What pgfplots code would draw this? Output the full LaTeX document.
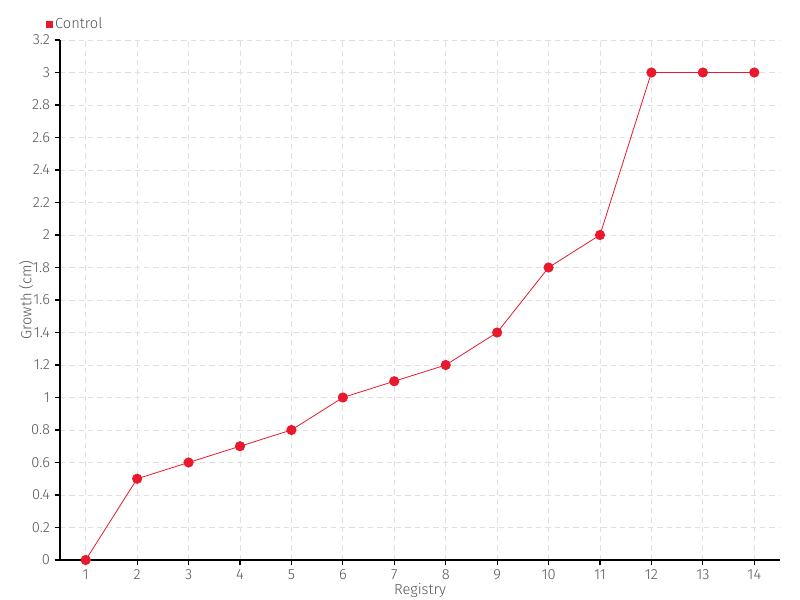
\documentclass[border=0pt]{standalone}
\usepackage{pgfplots}
\pgfplotsset{compat=1.18}
\usepackage{fontspec}
\setmainfont{Fira Sans}[UprightFont=* Light]
\definecolor{txt}{HTML}{555555}
\definecolor{ser}{HTML}{E8192C}
\definecolor{grd}{HTML}{E0E0E0}
\begin{document}
\begin{tikzpicture}[x=1pt,y=1pt]
\useasboundingbox (-45,-30) rectangle (555,420);
\begin{axis}[
  at={(0,0)}, anchor=south west,
  scale only axis, width=540pt, height=390pt,
  xmin=0.5, xmax=14.5, ymin=0, ymax=3.2,
  xtick={1,...,14},
  ytick={0,0.2,...,3.21},
  yticklabel style={/pgf/number format/fixed, /pgf/number format/precision=1},
  /pgf/number format/assume math mode=true,
  axis lines*=left,
  axis line style={black, line width=0.9pt},
  tick style={black, line width=0.8pt},
  major tick length=4pt,
  xtick align=outside, ytick align=outside,
  grid=major,
  major grid style={grd, dash pattern=on 4pt off 3pt, line width=0.7pt},
  tick label style={font=\fontsize{11}{12}\selectfont, text=txt},
  label style={font=\fontsize{11}{12}\selectfont, text=txt},
  xlabel={Registry}, ylabel={Growth (cm)},
  xlabel style={at={(axis description cs:0.5,0)}, anchor=north, yshift=-14pt},
  ylabel style={at={(axis description cs:-0.047,0.5)}, anchor=center},
  legend style={at={(rel axis cs:-0.02,1.012)}, anchor=south west, draw=none, fill=none,
    font=\fontsize{11}{12}\selectfont, text=txt, inner sep=0pt,
    /tikz/every even column/.append style={column sep=0pt}},
  legend cell align=left,
  legend image code/.code={\fill[ser] (0pt,-2.2pt) rectangle (4.4pt,2.2pt);},
]
\addplot[ser, line width=0.6pt, mark=*, mark size=3.5pt, mark options={fill=ser, draw=ser}]
coordinates {(1,0) (2,0.5) (3,0.6) (4,0.7) (5,0.8) (6,1.0) (7,1.1) (8,1.2) (9,1.4) (10,1.8) (11,2.0) (12,3.0) (13,3.0) (14,3.0)};
\addlegendentry{Control}
\end{axis}
\end{tikzpicture}
\end{document}
